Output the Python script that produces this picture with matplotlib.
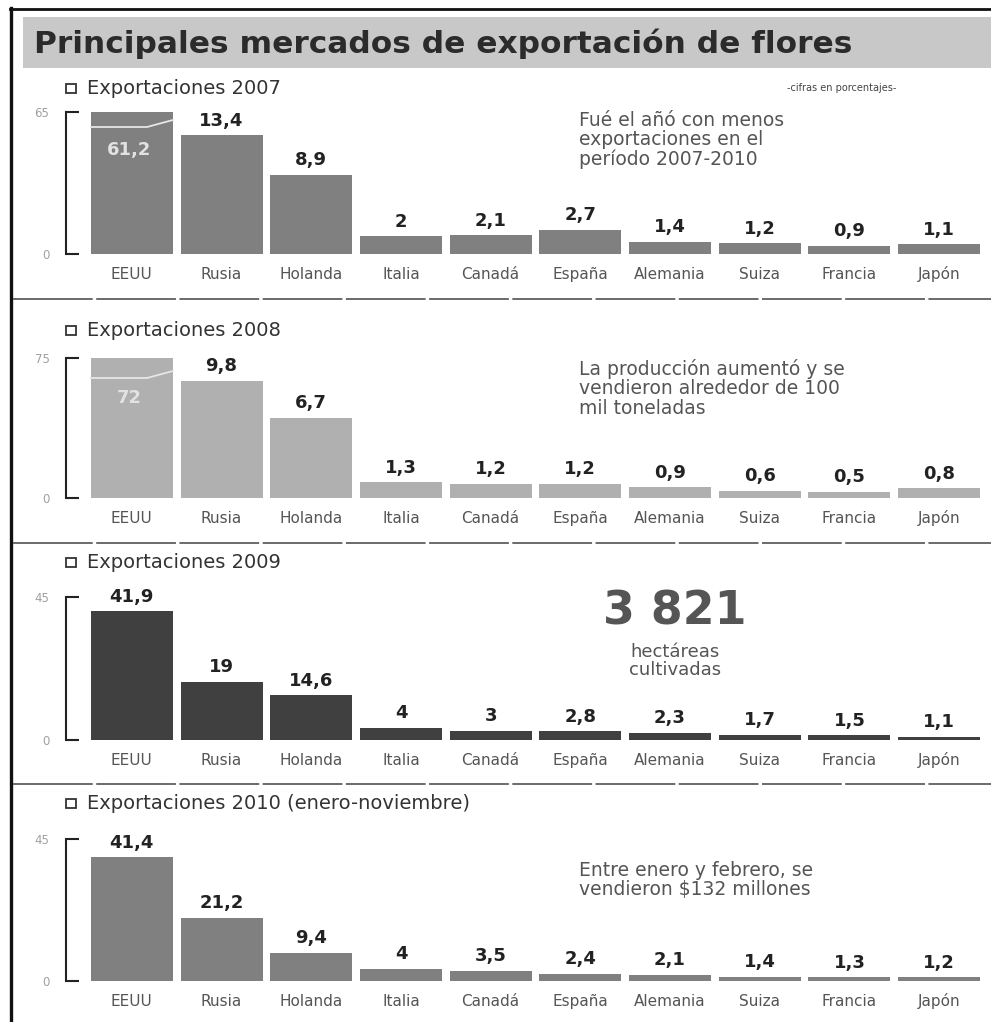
import matplotlib
matplotlib.use("Agg")
import matplotlib.pyplot as plt
from matplotlib.lines import Line2D
from matplotlib.patches import Rectangle

W, H = 991, 1022

# datos (cifras en porcentajes)
categorias = ["EEUU", "Rusia", "Holanda", "Italia", "Canadá", "España",
              "Alemania", "Suiza", "Francia", "Japón"]
v2007 = [61.2, 13.4, 8.9, 2, 2.1, 2.7, 1.4, 1.2, 0.9, 1.1]
v2008 = [72, 9.8, 6.7, 1.3, 1.2, 1.2, 0.9, 0.6, 0.5, 0.8]
v2009 = [41.9, 19, 14.6, 4, 3, 2.8, 2.3, 1.7, 1.5, 1.1]
v2010 = [41.4, 21.2, 9.4, 4, 3.5, 2.4, 2.1, 1.4, 1.3, 1.2]

titulos = ["Exportaciones 2007", "Exportaciones 2008",
           "Exportaciones 2009", "Exportaciones 2010 (enero-noviembre)"]
etiquetas_max = ["65", "75", "45", "45"]
notas = ["Fué el añó con menos\nexportaciones en el\nperíodo 2007-2010",
         "La producción aumentó y se\nvendieron alrededor de 100\nmil toneladas",
         None,
         "Entre enero y febrero, se\nvendieron $132 millones"]


def fx(px):
    return px / W


def fy(py):
    return 1 - py / H


def fmt(v):
    return f"{v:g}".replace(".", ",")


fig = plt.figure(figsize=(W / 100, H / 100), dpi=100)
fig.patch.set_facecolor("white")

# marco
fig.add_artist(Line2D([fx(11), fx(11)], [fy(8), 0], transform=fig.transFigure,
                      color="#111111", lw=2.4))
fig.add_artist(Line2D([fx(10), 1], [fy(9), fy(9)], transform=fig.transFigure,
                      color="#111111", lw=2.0))

# barra de titulo
fig.add_artist(Rectangle((fx(23), fy(68)), 1 - fx(23), (68 - 17) / H,
                         transform=fig.transFigure, facecolor="#c8c8c8",
                         edgecolor="none"))
fig.text(fx(34), fy(53), "Principales mercados de exportación de flores",
         fontsize=22.5, fontweight="bold", color="#2b2b2b", va="baseline")
fig.text(fx(842), fy(88), "-cifras en porcentajes-", fontsize=7,
         color="#444444", ha="center", va="center")

# separadores
for ys in [299, 543, 784]:
    fig.add_artist(Line2D([fx(13), 1], [fy(ys), fy(ys)], transform=fig.transFigure,
                          color="#6a6a6a", lw=1.4, linestyle=(0, (41, 1.8))))

# paneles: (color, base px, tope px, ylim, y subtitulo, cortada)
paneles = [
    ("#808080", 254, 112, 16.0, 88, True),
    ("#b0b0b0", 498, 358, 11.7, 330, True),
    ("#404040", 740, 597, 46.5, 562, False),
    ("#808080", 981, 839, 47.5, 803, False),
]
series = [v2007, v2008, v2009, v2010]
x = list(range(len(categorias)))

for k, (color, base, top, ymax, ysub, cortada) in enumerate(paneles):
    vals = series[k]
    ax = fig.add_axes([fx(87), fy(base), fx(984) - fx(87), (base - top) / H])
    ax.bar(x, vals, width=0.915, color=color, edgecolor="none", clip_on=True)
    ax.set_xlim(-0.5, len(x) - 0.5)
    ax.set_ylim(0, ymax)
    ax.set_facecolor("none")

    for s in ["top", "right", "bottom"]:
        ax.spines[s].set_visible(False)
    ax.spines["left"].set_position(("outward", 15))
    ax.spines["left"].set_color("#222222")
    ax.spines["left"].set_linewidth(1.5)
    ax.set_yticks([0, ymax])
    ax.set_yticklabels(["0", etiquetas_max[k]])
    ax.tick_params(axis="y", direction="in", length=9, width=1.5,
                   color="#222222", labelcolor="#a0a0a0", labelsize=8.5, pad=12)
    ax.set_xticks(x)
    ax.set_xticklabels(categorias)
    ax.tick_params(axis="x", length=0, labelcolor="#555555", labelsize=11, pad=18)
    for lab in ax.get_xticklabels():
        lab.set_verticalalignment("baseline")

    for i, v in enumerate(vals):
        if cortada and i == 0:
            continue
        ax.annotate(fmt(v), (i, v), xytext=(0, 4), textcoords="offset points",
                    ha="center", va="bottom", fontsize=13, fontweight="bold",
                    color="#222222")

    if cortada:
        # corte de la barra de EEUU
        tr = ax.get_xaxis_transform()
        h = base - top
        d1 = 15 / h if k == 0 else 20 / h
        d2 = 8 / h if k == 0 else 13 / h
        ax.plot([-0.4575, 0.17, 0.4575], [1 - d1, 1 - d1, 1 - d2], transform=tr,
                color="#e6e6e6", lw=1.3)
        ax.text(-0.03, 1 - (38 / h if k == 0 else 40 / h), fmt(vals[0]),
                transform=tr, ha="center", va="center", fontsize=13,
                fontweight="bold", color="#e2e2e2")

    # subtitulo con cuadrito
    fig.add_artist(Rectangle((fx(66), fy(ysub + 5)), 10 / W, 9 / H,
                             transform=fig.transFigure, facecolor="white",
                             edgecolor="#333333", lw=1.3))
    fig.text(fx(87), fy(ysub), titulos[k], fontsize=14, color="#333333",
             va="center")

    if notas[k]:
        ytxt = {0: 111, 1: 359, 3: 861}[k]
        fig.text(fx(579), fy(ytxt), notas[k], fontsize=13.5, color="#555555",
                 va="top", linespacing=1.02)

# dato destacado 2009
fig.text(fx(675), fy(612), "3 821", fontsize=33, fontweight="bold",
         color="#555555", ha="center", va="center")
fig.text(fx(675), fy(643), "hectáreas\ncultivadas", fontsize=13,
         color="#555555", ha="center", va="top", linespacing=1.0)

fig.savefig("out.png", dpi=100)
